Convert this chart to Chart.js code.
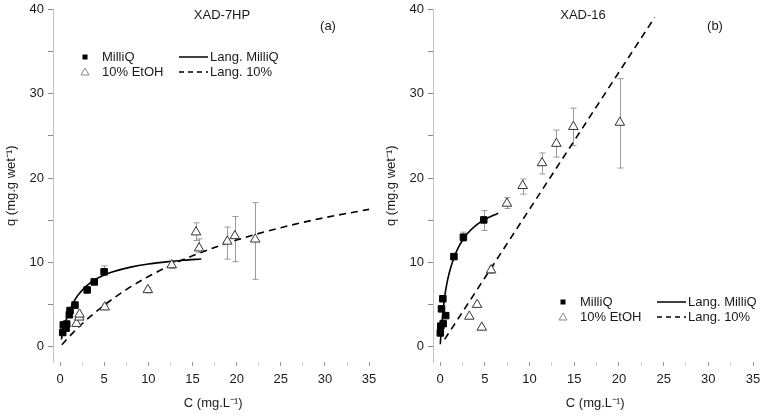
<!DOCTYPE html>
<html>
<head>
<meta charset="utf-8">
<script src="https://cdn.jsdelivr.net/npm/chart.js@4.4.1/dist/chart.umd.min.js"></script>
<style>
  html, body { margin: 0; padding: 0; background: #fff; }
  #wrap { position: relative; width: 764px; height: 416px; }
  canvas { position: absolute; top: 0; }
  #chartA { left: 0; }
  #chartB { left: 380px; }
</style>
</head>
<body>
<div id="wrap">
  <canvas id="chartA" width="380" height="416"></canvas>
  <canvas id="chartB" width="384" height="416"></canvas>
</div>
<script>
// axis ticks, shared by both panels
const xTicks = [0, 2.5, 5, 7.5, 10, 12.5, 15, 17.5, 20, 22.5, 25, 27.5, 30, 32.5, 35];
const yTicks = [0, 5, 10, 15, 20, 25, 30, 35, 40];

// (a) XAD-7HP - measured points
const aMilliQC = [0.30, 0.37, 0.68, 0.75, 1.05, 1.13, 1.69, 3.07, 3.87, 4.99];
const aMilliQQ = [1.7, 2.6, 2.2, 2.7, 3.8, 4.3, 4.95, 6.75, 7.7, 8.9];
const aMilliQErr = [null, null, null, null, null, null, null, null, null, [8.5, 9.6]];
const aEtohC = [1.86, 2.18, 2.2, 5.06, 9.94, 12.64, 15.4, 15.75, 18.94, 19.8, 22.1];
const aEtohQ = [2.75, 3.5, 3.85, 4.7, 6.75, 9.7, 13.6, 11.7, 12.5, 13.15, 12.75];
const aEtohErr = [null, null, null, [4.4, 5.0], [6.4, 7.0], [9.3, 10.0], [12.6, 14.7], [11.2, 12.8], [10.4, 14.2], [10.1, 15.45], [8.0, 17.1]];
// (a) Langmuir fits
const aLangMqC = [0.15, 0.3, 0.5, 0.75, 1, 1.5, 2, 3, 4, 5, 6, 8, 10, 12, 14, 16];
const aLangMqQ = [0.88, 1.64, 2.5, 3.39, 4.12, 5.24, 6.08, 7.22, 7.98, 8.51, 8.9, 9.45, 9.82, 10.07, 10.27, 10.42];
const aLang10C = [0.2, 1, 2, 3, 5, 7.5, 10, 12.5, 15, 20, 25, 30, 35];
const aLang10Q = [0.24, 1.16, 2.23, 3.21, 4.94, 6.78, 8.33, 9.65, 10.79, 12.66, 14.13, 15.32, 16.3];

// (b) XAD-16 - measured points
const bMilliQC = [0.02, 0.07, 0.34, 0.15, 0.3, 0.62, 1.54, 2.6, 4.88];
const bMilliQQ = [1.65, 2.45, 2.75, 4.5, 5.7, 3.7, 10.7, 13.0, 15.05];
const bMilliQErr = [null, null, null, null, null, null, [10.4, 11.0], [12.5, 13.6], [13.8, 16.15]];
const bEtohC = [3.26, 4.13, 4.66, 5.7, 7.47, 9.23, 11.4, 13.0, 14.9, 20.1];
const bEtohQ = [3.6, 5.0, 2.3, 9.1, 17.0, 19.1, 21.8, 24.1, 26.1, 26.6];
const bEtohErr = [null, null, null, [8.7, 9.5], [16.4, 17.7], [18.1, 19.9], [20.5, 23.0], [22.5, 25.7], [23.85, 28.3], [21.2, 31.8]];
// (b) Langmuir fits
const bLangMqC = [0.02, 0.05, 0.15, 0.3, 0.5, 0.75, 1, 1.5, 2, 2.5, 3, 4, 5, 6, 6.5];
const bLangMqQ = [0.3, 0.9, 2.3, 4.0, 5.9, 7.5, 8.7, 10.45, 11.7, 12.64, 13.37, 14.41, 15.11, 15.62, 15.83];
const bLang10C = [0.5, 5, 10, 15, 20, 24];
const bLang10Q = [0.88, 8.19, 16.32, 24.44, 32.57, 39.07];

const FONT = '"Liberation Sans", Arial, sans-serif';
const FSIZE = 13;
const zip = (xs, ys) => xs.map((x, i) => ({ x: x, y: ys[i] }));

// vertical error bars with caps, drawn under the markers
const errorBars = {
    id: 'errorBars',
    beforeDatasetsDraw(chart) {
        const { ctx, scales: { x, y } } = chart;
        ctx.save();
        ctx.strokeStyle = '#9a9a9a';
        ctx.lineWidth = 1;
        chart.data.datasets.forEach(ds => {
            if (!ds.errors) return;
            ds.errors.forEach((e, i) => {
                if (!e) return;
                const px = Math.round(x.getPixelForValue(ds.data[i].x)) + 0.5;
                const lo = y.getPixelForValue(e[0]);
                const hi = y.getPixelForValue(e[1]);
                ctx.beginPath();
                ctx.moveTo(px, lo); ctx.lineTo(px, hi);
                ctx.moveTo(px - 3, lo); ctx.lineTo(px + 3, lo);
                ctx.moveTo(px - 3, hi); ctx.lineTo(px + 3, hi);
                ctx.stroke();
            });
        });
        ctx.restore();
    }
};

// panel title, letter and the 2x2 legend
const panelText = {
    id: 'panelText',
    afterDraw(chart, args, opts) {
        const ctx = chart.ctx;
        ctx.save();
        ctx.font = FSIZE + 'px ' + FONT;
        ctx.fillStyle = '#1a1a1a';
        ctx.textBaseline = 'middle';
        ctx.textAlign = 'center';
        ctx.fillText(opts.title, opts.titleX, 15);
        ctx.fillText(opts.tag, opts.tagX, 26);

        const lx = opts.legendX, ly = opts.legendY;
        ctx.textAlign = 'left';
        // markers
        ctx.fillStyle = '#000';
        ctx.fillRect(lx - 2.5, ly - 2.5, 5, 5);
        ctx.strokeStyle = '#888';
        ctx.lineWidth = 1;
        ctx.beginPath();
        ctx.moveTo(lx, ly + 15 - 4);
        ctx.lineTo(lx + 4, ly + 15 + 3);
        ctx.lineTo(lx - 4, ly + 15 + 3);
        ctx.closePath();
        ctx.stroke();
        ctx.fillStyle = '#1a1a1a';
        ctx.fillText('MilliQ', lx + 17, ly);
        ctx.fillText('10% EtOH', lx + 17, ly + 15);
        // lines
        ctx.strokeStyle = '#000';
        ctx.lineWidth = 1.5;
        ctx.beginPath();
        ctx.moveTo(lx + 94, ly); ctx.lineTo(lx + 123, ly);
        ctx.stroke();
        ctx.setLineDash([5, 4]);
        ctx.beginPath();
        ctx.moveTo(lx + 94, ly + 15); ctx.lineTo(lx + 123, ly + 15);
        ctx.stroke();
        ctx.setLineDash([]);
        ctx.fillText('Lang. MilliQ', lx + 125, ly);
        ctx.fillText('Lang. 10%', lx + 125, ly + 15);
        ctx.restore();
    }
};

function makeScales() {
    return {
        x: {
            type: 'linear',
            min: -0.8,
            max: 35.5,
            afterBuildTicks: s => { s.ticks = xTicks.map(v => ({ value: v })); },
            afterFit: s => { s.height = 54; s.paddingLeft = 0; s.paddingRight = 0; },
            border: { display: false },
            grid: {
                drawOnChartArea: false,
                tickLength: 4,
                color: c => (c.tick && c.tick.value % 5 === 0) ? '#999' : '#d0d0d0'
            },
            ticks: {
                autoSkip: false,
                maxRotation: 0,
                padding: 6,
                color: '#1a1a1a',
                font: { family: FONT, size: FSIZE },
                callback: v => (v % 5 === 0 ? v : '')
            },
            title: {
                display: true,
                text: 'C (mg.L\u207B\u00B9)',
                color: '#1a1a1a',
                font: { family: FONT, size: FSIZE },
                padding: { top: 0, bottom: 5 }
            }
        },
        y: {
            type: 'linear',
            min: -1.8,
            max: 40,
            afterBuildTicks: s => { s.ticks = yTicks.map(v => ({ value: v })); },
            afterFit: s => { s.width = 53; s.paddingTop = 0; s.paddingBottom = 0; },
            border: { display: true, color: '#c4c4c4', width: 1 },
            grid: { drawOnChartArea: false, tickLength: 5, color: '#888' },
            ticks: {
                padding: 4,
                color: '#1a1a1a',
                font: { family: FONT, size: FSIZE },
                callback: v => (v % 10 === 0 ? v : '')
            },
            title: {
                display: true,
                text: 'q (mg.g wet\u207B\u00B9)',
                color: '#1a1a1a',
                font: { family: FONT, size: FSIZE },
                padding: { top: 4, bottom: 0 }
            }
        }
    };
}

function makeDatasets(mqC, mqQ, mqErr, etC, etQ, etErr, lmC, lmQ, l10C, l10Q) {
    return [
        {
            label: 'MilliQ',
            data: zip(mqC, mqQ),
            errors: mqErr,
            pointStyle: 'rect',
            pointRadius: 4.6,
            backgroundColor: '#000',
            borderColor: '#000',
            borderWidth: 1,
            showLine: false
        },
        {
            label: '10% EtOH',
            data: zip(etC, etQ),
            errors: etErr,
            pointStyle: 'triangle',
            pointRadius: 5.5,
            backgroundColor: '#fff',
            borderColor: '#333',
            borderWidth: 1,
            showLine: false
        },
        {
            label: 'Lang. MilliQ',
            data: zip(lmC, lmQ),
            showLine: true,
            pointRadius: 0,
            borderColor: '#000',
            borderWidth: 1.6,
            cubicInterpolationMode: 'monotone'
        },
        {
            label: 'Lang. 10%',
            data: zip(l10C, l10Q),
            showLine: true,
            pointRadius: 0,
            borderColor: '#000',
            borderWidth: 1.6,
            borderDash: [7, 5],
            cubicInterpolationMode: 'monotone'
        }
    ];
}

function renderPanel(id, datasets, text, rightPad) {
    const ctx = document.getElementById(id).getContext('2d');
    new Chart(ctx, {
        type: 'scatter',
        data: { datasets: datasets },
        options: {
            responsive: false,
            animation: false,
            devicePixelRatio: 1,
            layout: { padding: { top: 9.5, right: rightPad, bottom: 0, left: 0 } },
            scales: makeScales(),
            plugins: {
                legend: { display: false },
                tooltip: { enabled: false },
                panelText: text
            }
        },
        plugins: [errorBars, panelText]
    });
}

renderPanel('chartA',
    makeDatasets(aMilliQC, aMilliQQ, aMilliQErr, aEtohC, aEtohQ, aEtohErr, aLangMqC, aLangMqQ, aLang10C, aLang10Q),
    { title: 'XAD-7HP', titleX: 222, tag: '(a)', tagX: 328, legendX: 85, legendY: 57 },
    4.5);

renderPanel('chartB',
    makeDatasets(bMilliQC, bMilliQQ, bMilliQErr, bEtohC, bEtohQ, bEtohErr, bLangMqC, bLangMqQ, bLang10C, bLang10Q),
    { title: 'XAD-16', titleX: 203, tag: '(b)', tagX: 335, legendX: 183, legendY: 302 },
    6.5);
</script>
</body>
</html>
